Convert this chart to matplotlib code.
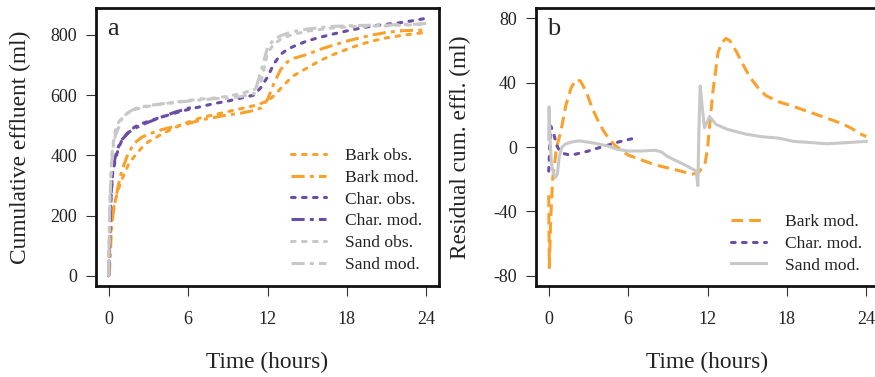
import matplotlib
matplotlib.use("Agg")
import matplotlib.pyplot as plt

plt.rcParams['font.family'] = ['Liberation Serif', 'DejaVu Serif']

ORANGE = '#F9A12C'
PURPLE = '#6A4DA5'
GREY = '#C8C8C8'
TXT = '#222222'

# ---------------- Panel a data ----------------
t_a = [0, 0.05, 0.1, 0.2, 0.3, 0.5, 0.75, 1, 1.5, 2, 2.5, 3, 4, 5, 6, 7, 8, 9, 10,
       11, 11.5, 12, 12.5, 13, 13.5, 14, 15, 16, 17, 18, 19, 20, 21, 22, 23, 24]
bark_obs = [0, 60, 110, 170, 210, 250, 290, 320, 370, 400, 425, 445, 470, 492, 510, 525, 535, 545, 555,
            565, 572, 580, 598, 622, 645, 665, 690, 715, 735, 752, 768, 780, 790, 797, 803, 808]
bark_mod = [0, 10, 50, 150, 195, 250, 305, 350, 410, 442, 460, 470, 485, 496, 505, 518, 526, 534, 540,
            549, 557, 585, 640, 685, 710, 722, 735, 752, 766, 779, 790, 800, 808, 813, 815, 815]
char_obs = [0, 100, 180, 280, 340, 385, 425, 450, 478, 495, 505, 513, 527, 540, 552, 562, 572, 580, 590,
            600, 625, 660, 705, 735, 752, 762, 780, 792, 803, 813, 822, 830, 835, 840, 847, 855]
sand_obs = [0, 150, 270, 370, 430, 480, 510, 525, 542, 552, 558, 563, 570, 576, 582, 587, 590, 596, 605,
            618, 640, 740, 770, 785, 795, 802, 812, 818, 823, 826, 828, 829, 830, 832, 833, 835]
sand_mod = [0, 175, 255, 355, 420, 465, 492, 522, 543, 555, 561, 565, 571, 575, 580, 584, 588, 590, 595,
            605, 678, 758, 785, 797, 805, 811, 819, 824, 828, 830, 831, 832, 832, 834, 835, 838]
t_char_mod = [0, 0.05, 0.1, 0.2, 0.3, 0.5, 0.75, 1, 1.5, 2, 2.5, 3, 4, 5, 6, 6.5]
char_mod = [0, 80, 170, 285, 350, 395, 430, 452, 476, 490, 501, 510, 527, 543, 556, 561]

# ---------------- Panel b data ----------------
t_bark_res = [0, 0.05, 0.15, 0.3, 0.6, 0.9, 1.3, 1.7, 2.1, 2.4, 2.8, 3.3, 3.8, 4.3, 5, 6, 7, 8, 9, 10,
              10.8, 11.3, 11.8, 12.0, 12.4, 12.8, 13.1, 13.4, 13.7, 14.2, 14.7, 15.2, 15.8, 16.4,
              17.4, 18.4, 19.4, 20.3, 21.2, 22, 22.8, 23.6, 24]
bark_res = [-30, -75, -45, -20, 0, 9, 26, 37, 42, 41, 35, 24, 15, 8, 1, -5, -8, -11, -13, -15,
            -17, -16, -11, -1, 34, 59, 65, 67.5, 66, 59, 51, 43.5, 37, 32,
            28, 25.5, 22.6, 20, 17.4, 15, 12, 8, 6.5]
t_char_res = [0, 0.08, 0.15, 0.3, 0.45, 0.6, 0.8, 1.1, 1.5, 2, 2.5, 3, 3.5, 4, 4.5, 5, 5.5, 6, 6.5]
char_res = [-15, 0, 13, 10, 6, 1, -2, -4, -4.8, -4.5, -3.5, -2.5, -1.2, 0, 1.2, 2.5, 3.6, 4.6, 5.5]
t_sand_res = [0, 0.03, 0.1, 0.2, 0.35, 0.5, 0.65, 0.8, 1.0, 1.3, 1.8, 2.3, 3.0, 3.7, 4.5, 5.2, 6, 7, 8,
              8.5, 9, 9.5, 10, 10.5, 11.15, 11.27, 11.35, 11.45, 11.6, 11.77, 11.95, 12.15, 12.65,
              13.5, 14.9, 16, 17.4, 18.5, 19.9, 21, 22.5, 24]
sand_res = [5, 25, 5, -10, -16, -19, -17, -6, 0, 2, 3.2, 3.8, 3, 2, 0.5, -1.5, -2.5, -2.5, -2,
            -3, -6, -8, -10, -12, -15, -24, 10, 38, 25, 12, 15, 19, 14,
            11, 8, 6.5, 5.5, 3.5, 2.7, 2, 2.7, 3.5]

xticks = [0, 6, 12, 18, 24]
yticks_a = [0, 200, 400, 600, 800]
yticks_b = [-80, -40, 0, 40, 80]

W, H = 875, 377
fig = plt.figure(figsize=(W / 100, H / 100), dpi=100)

def px_axes(l, t, r, b):
    return fig.add_axes([l / W, 1 - b / H, (r - l) / W, (b - t) / H])

ax1 = px_axes(96, 8, 439, 286)
ax2 = px_axes(536, 8, 879, 286)

LW = 2.2
dot = (1.2, 2.4)
dashdot = (4.3, 1.7, 1.3, 1.7)
dash = (3.8, 2.0)

def style(ax):
    for s in ax.spines.values():
        s.set_linewidth(2.0)
        s.set_color('#111111')
    ax.tick_params(direction='out', length=7.2, width=0.8, color='#333333',
                   labelsize=13, labelcolor=TXT)
    ax.tick_params(axis='x', pad=10.5)
    ax.tick_params(axis='y', pad=6.5)
    ax.set_xlim(-0.96, 24.96)
    ax.set_xticks(xticks)
    ax.set_xlabel('Time (hours)', fontsize=16.8, color=TXT)
    ax.xaxis.label.set_va('center')
    ax.xaxis.set_label_coords(0.5, (286 - 362) / 278)
    ax.yaxis.label.set_va('center')
    ax.yaxis.set_label_coords((20 - 96) / 343, 0.5)

LEGKW = dict(loc='upper left', frameon=False, fontsize=12.6, handlelength=2.0,
             handletextpad=1.07, labelspacing=0.31, borderaxespad=0, borderpad=0)

# Panel a
ax1.plot(t_a, bark_obs, color=ORANGE, lw=LW, dashes=dot, dash_capstyle='round', label='Bark obs.')
ax1.plot(t_a, bark_mod, color=ORANGE, lw=LW, dashes=dashdot, label='Bark mod.')
ax1.plot(t_a, char_obs, color=PURPLE, lw=LW, dashes=dot, dash_capstyle='round', label='Char. obs.')
ax1.plot(t_char_mod, char_mod, color=PURPLE, lw=LW, dashes=dashdot, label='Char. mod.')
ax1.plot(t_a, sand_obs, color=GREY, lw=LW, dashes=dot, dash_capstyle='round', label='Sand obs.')
ax1.plot(t_a, sand_mod, color=GREY, lw=LW, dashes=dashdot, label='Sand mod.')
ax1.set_ylim(-34, 889)
ax1.set_yticks(yticks_a)
ax1.set_yticklabels([str(v) for v in yticks_a])
style(ax1)
ax1.set_ylabel('Cumulative effluent (ml)', fontsize=16.8, color=TXT)
ax1.text(0.032, 0.903, 'a', transform=ax1.transAxes, fontsize=19, color=TXT,
         ha='left', va='baseline')
leg1 = ax1.legend(bbox_to_anchor=((291 - 96) / 343, (286 - 148) / 278), **LEGKW)
for tx in leg1.get_texts():
    tx.set_color(TXT)

# Panel b
ax2.plot(t_bark_res, bark_res, color=ORANGE, lw=LW, dashes=dash, label='Bark mod.')
ax2.plot(t_char_res, char_res, color=PURPLE, lw=LW, dashes=dot, dash_capstyle='round', label='Char. mod.')
ax2.plot(t_sand_res, sand_res, color=GREY, lw=LW, label='Sand mod.')
ax2.set_ylim(-86.4, 86.4)
ax2.set_yticks(yticks_b)
ax2.set_yticklabels([str(v) for v in yticks_b])
style(ax2)
ax2.set_ylabel('Residual cum. effl. (ml)', fontsize=16.8, color=TXT)
ax2.text(0.032, 0.903, 'b', transform=ax2.transAxes, fontsize=19, color=TXT,
         ha='left', va='baseline')
leg2 = ax2.legend(bbox_to_anchor=((731 - 536) / 343, (286 - 214) / 278), **LEGKW)
for tx in leg2.get_texts():
    tx.set_color(TXT)

fig.savefig('out.png', dpi=100)
